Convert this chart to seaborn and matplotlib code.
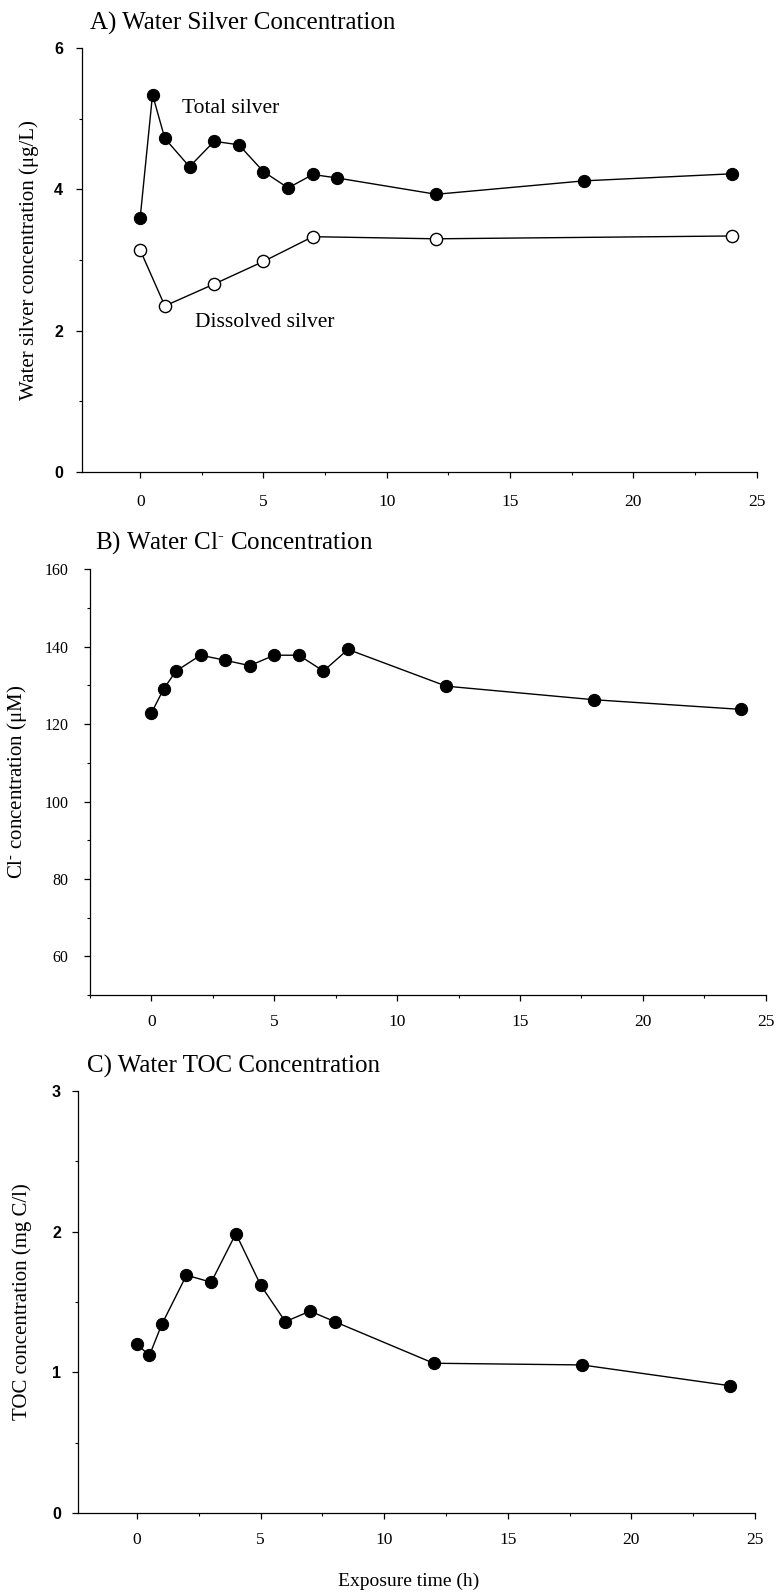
import numpy as np
import pandas as pd
import matplotlib
matplotlib.use("Agg")
import matplotlib.pyplot as plt
from matplotlib.ticker import MultipleLocator
import seaborn as sns

# ---------------- data ----------------
time_total = [0, 0.5, 1, 2, 3, 4, 5, 6, 7, 8, 12, 18, 24]
total_silver = [3.60, 5.34, 4.72, 4.32, 4.68, 4.63, 4.25, 4.02, 4.21, 4.16, 3.93, 4.12, 4.22]

time_dissolved = [0, 1, 3, 5, 7, 12, 24]
dissolved_silver = [3.14, 2.35, 2.66, 2.98, 3.33, 3.30, 3.34]

time_cl = [0, 0.5, 1, 2, 3, 4, 5, 6, 7, 8, 12, 18, 24]
chloride = [122.9, 129.1, 133.7, 137.8, 136.5, 135.1, 137.8, 137.8, 133.7, 139.3, 129.8, 126.3, 123.8]

time_toc = [0, 0.5, 1, 2, 3, 4, 5, 6, 7, 8, 12, 18, 24]
toc = [1.20, 1.12, 1.34, 1.69, 1.64, 1.985, 1.62, 1.36, 1.435, 1.36, 1.065, 1.053, 0.905]

x_ticks = [0, 5, 10, 15, 20, 25]
titles = ["A) Water Silver Concentration", r"B) Water Cl$^{\text{-}}$ Concentration", "C) Water TOC Concentration"]
ylabels = [u"Water silver concentration (\u03bcg/L)", u"Cl$^{\\text{-}}$ concentration (\u03bcM)", "TOC concentration (mg C/l)"]
xlabel = "Exposure time (h)"

# ---------------- style ----------------
sns.set_style("ticks")
SERIF = ["Liberation Serif", "DejaVu Serif"]
SANS = ["Liberation Sans", "DejaVu Sans"]
plt.rcParams["font.family"] = SERIF
plt.rcParams["mathtext.fontset"] = "custom"
plt.rcParams["mathtext.rm"] = "Liberation Serif"
plt.rcParams["mathtext.it"] = "Liberation Serif:italic"
plt.rcParams["mathtext.default"] = "rm"
plt.rcParams["axes.linewidth"] = 0.9
for key in ["text.color", "axes.labelcolor", "xtick.color", "ytick.color", "axes.edgecolor"]:
    plt.rcParams[key] = "black"

W, H = 776, 1594
fig = plt.figure(figsize=(W / 100, H / 100), dpi=100)


def add_axes_px(left, right, top, bottom):
    return fig.add_axes([left / W, 1 - bottom / H, (right - left) / W, (bottom - top) / H])


axA = add_axes_px(82, 756.7, 48, 472)
axB = add_axes_px(90, 765.7, 569.3, 995)
axC = add_axes_px(77.7, 755, 1090.6, 1513.3)

filled = dict(marker="o", markersize=8.8, markerfacecolor="black", markeredgecolor="black",
              color="black", linewidth=1.0)
opened = dict(marker="o", markersize=8.8, markerfacecolor="white", markeredgecolor="black",
              markeredgewidth=1.0, color="black", linewidth=1.0)

sns.lineplot(x=time_total, y=total_silver, ax=axA, **filled)
sns.lineplot(x=time_dissolved, y=dissolved_silver, ax=axA, **opened)
sns.lineplot(x=time_cl, y=chloride, ax=axB, **filled)
sns.lineplot(x=time_toc, y=toc, ax=axC, **filled)

axA.text(3.68, 5.15, "Total silver", ha="center", va="center", fontsize=15.5, family=SERIF)
axA.text(5.06, 2.11, "Dissolved silver", ha="center", va="center", fontsize=15.5, family=SERIF)

cfg = [
    (axA, (-2.36, 25), (0, 6), [0, 2, 4, 6], 1, SANS, 11.9, 9.5),
    (axB, (-2.5, 25), (50, 160), [60, 80, 100, 120, 140, 160], 10, SERIF, 9.7, 11.5),
    (axC, (-2.4, 25), (0, 3), [0, 1, 2, 3], 0.5, SANS, 9.5, 8),
]
for ax, xl, yl, yt, yminor, yfont, xpad, ypad in cfg:
    sns.despine(ax=ax)
    ax.set_xlim(*xl)
    ax.set_ylim(*yl)
    ax.set_xticks(x_ticks)
    ax.xaxis.set_minor_locator(MultipleLocator(2.5))
    ax.set_yticks(yt)
    ax.yaxis.set_minor_locator(MultipleLocator(yminor))
    ax.tick_params(axis="both", which="major", direction="out", length=4, width=0.9, color="black")
    ax.tick_params(axis="both", which="minor", direction="out", length=2.5, width=0.8, color="black")
    ax.tick_params(axis="x", which="major", pad=xpad, labelsize=12.5)
    ax.tick_params(axis="y", which="major", pad=ypad, labelsize=11.5)
    for lab in ax.get_xticklabels():
        lab.set_family(SERIF)
    for lab in ax.get_yticklabels():
        lab.set_family(yfont)
        if yfont is SANS:
            lab.set_weight("bold")
    ax.set_xlabel("")
    ax.set_ylabel("")

# titles
fig.text(90 / W, 1 - 23 / H, titles[0], ha="left", va="center", fontsize=18)
fig.text(95 / W, 1 - 543 / H, titles[1], ha="left", va="center", fontsize=18)
fig.text(87 / W, 1 - 1066.5 / H, titles[2], ha="left", va="center", fontsize=18)

# y labels
fig.text(29 / W, 1 - 260 / H, ylabels[0], rotation=90, ha="center", va="center", fontsize=15)
fig.text(17 / W, 1 - 782 / H, ylabels[1], rotation=90, ha="center", va="center", fontsize=15)
fig.text(22 / W, 1 - 1302 / H, ylabels[2], rotation=90, ha="center", va="center", fontsize=15)

# x label
fig.text(409 / W, 1 - 1581 / H, xlabel, ha="center", va="center", fontsize=14)

fig.savefig("out.png", dpi=100)
